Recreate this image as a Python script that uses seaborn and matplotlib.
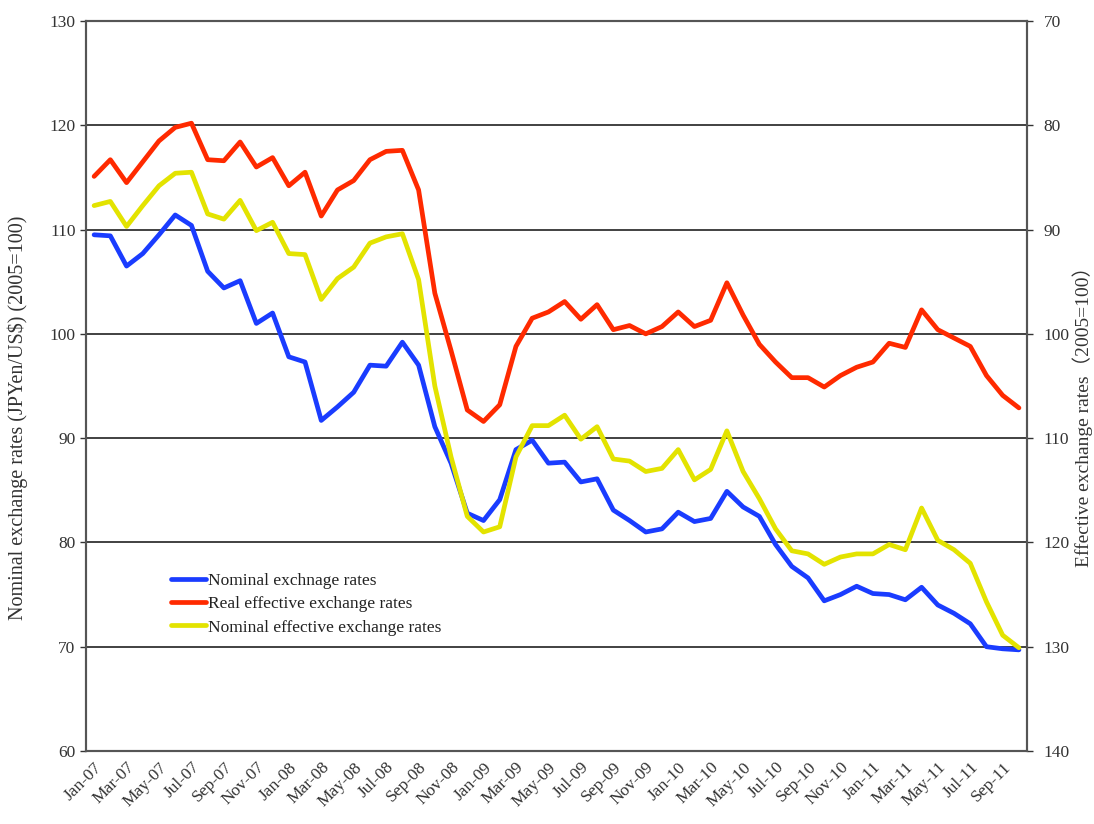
import matplotlib
matplotlib.use("Agg")
import matplotlib.pyplot as plt
import seaborn as sns
import numpy as np
import pandas as pd

# monthly, Jan-07 .. Oct-11
months = pd.date_range("2007-01-01", "2011-10-01", freq="MS")
month_labels = [d.strftime("%b-%y") for d in months]

# left axis: JPY per USD index (2005=100)
nominal = [109.5, 109.4, 106.5, 107.7, 109.5, 111.4, 110.4, 106.0, 104.4, 105.1,
           101.0, 102.0, 97.8, 97.3, 91.7, 93.0, 94.4, 97.0, 96.9, 99.2,
           97.0, 91.1, 87.6, 82.8, 82.1, 84.1, 88.9, 89.8, 87.6, 87.7,
           85.8, 86.1, 83.1, 82.1, 81.0, 81.3, 82.9, 82.0, 82.3, 84.9,
           83.4, 82.5, 79.8, 77.7, 76.6, 74.4, 75.0, 75.8, 75.1, 75.0,
           74.5, 75.7, 74.0, 73.2, 72.2, 70.0, 69.8, 69.7]

# right axis (inverted): effective rates (2005=100)
real_eff = [84.9, 83.3, 85.5, 83.5, 81.5, 80.2, 79.8, 83.3, 83.4, 81.6,
            84.0, 83.1, 85.8, 84.5, 88.7, 86.2, 85.3, 83.3, 82.5, 82.4,
            86.2, 96.1, 101.6, 107.3, 108.4, 106.8, 101.2, 98.5, 97.9, 96.9,
            98.6, 97.2, 99.6, 99.2, 100.0, 99.3, 97.9, 99.3, 98.7, 95.1,
            98.2, 101.0, 102.7, 104.2, 104.2, 105.1, 104.0, 103.2, 102.7, 100.9,
            101.3, 97.7, 99.6, 100.4, 101.2, 104.0, 105.9, 107.1]

nominal_eff = [87.7, 87.3, 89.7, 87.7, 85.8, 84.6, 84.5, 88.5, 89.0, 87.2,
               90.1, 89.3, 92.3, 92.4, 96.7, 94.7, 93.6, 91.3, 90.7, 90.4,
               94.8, 105.0, 111.8, 117.5, 119.0, 118.5, 111.8, 108.8, 108.8, 107.8,
               110.1, 108.9, 112.0, 112.2, 113.2, 112.9, 111.1, 114.0, 113.0, 109.3,
               113.2, 115.8, 118.7, 120.8, 121.1, 122.1, 121.4, 121.1, 121.1, 120.2,
               120.7, 116.7, 119.8, 120.7, 122.0, 125.7, 128.9, 130.1]

df = pd.DataFrame({
    "idx": np.arange(len(months)),
    "nominal": nominal,
    "real_eff": real_eff,
    "nominal_eff": nominal_eff,
})

sns.set_style("white")
plt.rcParams["font.family"] = ["Liberation Serif", "Noto Sans CJK JP", "DejaVu Sans"]

BLUE = "#1a3cff"
RED = "#ff2a00"
YELLOW = "#e3e300"
LW = 3.4

fig = plt.figure(figsize=(10.94, 8.24), dpi=100)
ax = fig.add_axes([0.0786, 0.0886, 0.8602, 0.8859])
ax2 = ax.twinx()

sns.lineplot(data=df, x="idx", y="nominal", ax=ax, color=BLUE, lw=LW,
             label="Nominal exchnage rates", legend=False)
sns.lineplot(data=df, x="idx", y="real_eff", ax=ax2, color=RED, lw=LW,
             label="Real effective exchange rates", legend=False)
sns.lineplot(data=df, x="idx", y="nominal_eff", ax=ax2, color=YELLOW, lw=LW,
             label="Nominal effective exchange rates", legend=False)

ax.set_xlim(-0.5, len(months) - 0.5)
ax.set_ylim(60, 130)
ax2.set_ylim(140, 70)
ax.set_yticks(np.arange(60, 131, 10))
ax2.set_yticks(np.arange(70, 141, 10))

ax.yaxis.grid(True, color="#333333", lw=1.3)
ax.xaxis.grid(False)
ax2.grid(False)

ax.set_xticks(np.arange(0, len(months), 2))
ax.set_xticklabels(month_labels[::2], rotation=45, ha="right", rotation_mode="anchor")
ax.set_xticks(np.arange(-0.5, len(months), 1), minor=True)
ax.tick_params(axis="x", which="major", length=0, labelsize=12.5, pad=6)
ax.tick_params(axis="x", which="minor", direction="in", length=4, width=1, color="#333333")
ax.tick_params(axis="y", which="major", direction="out", length=4, width=1,
               color="#333333", labelsize=12.5, labelcolor="#333333")
ax2.tick_params(axis="y", which="major", direction="out", length=4, width=1,
                color="#333333", labelsize=12.5, labelcolor="#333333", pad=8)
ax.tick_params(axis="x", labelcolor="#333333")

for a in (ax, ax2):
    for s in a.spines.values():
        s.set_color("#555555")
        s.set_linewidth(1.5)

ax.set_xlabel("")
ax.set_ylabel("Nominal exchange rates (JPYen/US$) (2005=100)", fontsize=14.5,
              color="#333333", va="center")
ax.yaxis.set_label_coords(-0.072, 0.456)
ax2.set_ylabel("Effective exchange rates\uff082005=100\uff09", fontsize=14,
               color="#333333", va="center")
ax2.yaxis.set_label_coords(1.059, 0.464)

h1, l1 = ax.get_legend_handles_labels()
h2, l2 = ax2.get_legend_handles_labels()
ax2.legend(h1 + h2, l1 + l2, loc="upper left", bbox_to_anchor=(0.074, 0.265),
           frameon=False, fontsize=12.5, handlelength=2.0, handletextpad=0.1,
           labelspacing=0.4, labelcolor="#222222")

fig.savefig("out.png", dpi=100)
